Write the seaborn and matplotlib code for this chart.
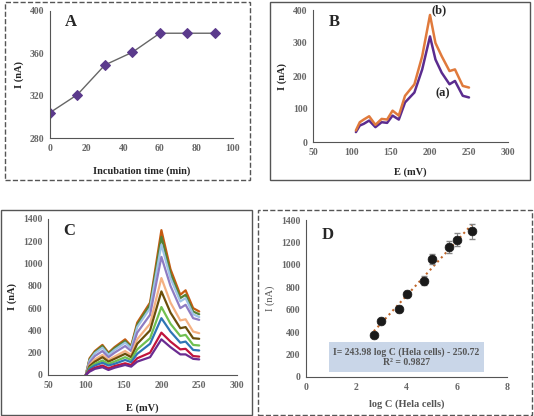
import matplotlib
matplotlib.use("Agg")
import matplotlib.pyplot as plt
import seaborn as sns
import numpy as np
import pandas as pd
from matplotlib.patches import Rectangle

sns.set_style("white")
plt.rcParams['font.family'] = ['Liberation Serif', 'DejaVu Serif']

# ---- data ----
time_min = [0, 15, 30, 45, 60, 75, 90]
current_A = [304, 321, 349, 361, 379, 379, 379]

E_B = [105, 110, 115, 122, 130, 138, 145, 152, 160, 168, 180, 190, 200, 207, 215, 225, 232, 242, 250]
I_Ba = [30, 50, 55, 65, 45, 60, 58, 80, 68, 120, 150, 220, 320, 250, 210, 175, 185, 140, 135]
I_Bb = [35, 60, 68, 78, 52, 70, 68, 95, 80, 140, 175, 260, 385, 300, 260, 215, 220, 170, 165]

E_C = [100, 105, 112, 122, 130, 138, 152, 160, 168, 185, 200, 212, 225, 232, 242, 250]
C_curves = [
    [0, 150, 215, 270, 200, 250, 320, 260, 470, 650, 1300, 950, 720, 760, 600, 570],
    [0, 140, 205, 260, 190, 240, 305, 250, 450, 630, 1240, 910, 690, 720, 570, 545],
    [0, 130, 195, 245, 180, 225, 290, 240, 430, 600, 1170, 870, 660, 690, 545, 520],
    [0, 110, 170, 215, 160, 200, 260, 215, 380, 540, 1060, 800, 600, 630, 510, 495],
    [0, 90, 140, 180, 135, 165, 215, 180, 320, 460, 870, 650, 490, 500, 390, 375],
    [0, 80, 120, 160, 120, 145, 190, 160, 280, 400, 750, 560, 420, 430, 330, 325],
    [0, 65, 100, 130, 100, 120, 160, 135, 230, 330, 610, 460, 350, 360, 270, 265],
    [0, 55, 85, 110, 85, 100, 135, 115, 190, 280, 510, 390, 290, 300, 225, 220],
    [0, 40, 65, 85, 60, 80, 105, 90, 150, 200, 380, 300, 230, 235, 170, 165],
    [0, 30, 55, 70, 45, 65, 90, 75, 120, 160, 320, 250, 185, 185, 145, 140],
]
C_colors = ['#C55A11', '#548235', '#9DC3E6', '#8E7CC3', '#F4B183',
            '#6B4E0A', '#70C050', '#2E75B6', '#C0143C', '#6A2C91']

logC = [2.7, 3.0, 3.7, 4.0, 4.7, 5.0, 5.7, 6.0, 6.6]
I_D = [375, 500, 605, 740, 860, 1050, 1160, 1225, 1300]
err_D = [20, 20, 25, 30, 40, 45, 55, 60, 65]
slope, intercept = 243.98, -250.72

W, H = 534, 416
fig = plt.figure(figsize=(W / 100, H / 100), dpi=100)

def ax_px(x0, y0, x1, y1):
    return fig.add_axes([x0 / W, 1 - y1 / H, (x1 - x0) / W, (y1 - y0) / H])

def box(x0, y0, x1, y1, ls):
    fig.patches.append(Rectangle((x0 / W, 1 - y1 / H), (x1 - x0) / W, (y1 - y0) / H,
                                 transform=fig.transFigure, fill=False, ec='#555555',
                                 lw=1, ls=ls))

def style(ax):
    sns.despine(ax=ax)
    for s in ['left', 'bottom']:
        ax.spines[s].set_color('#555555')
        ax.spines[s].set_linewidth(0.8)
    ax.tick_params(labelsize=7, colors='#666666', length=0, pad=4)
    for t in ax.get_xticklabels() + ax.get_yticklabels():
        t.set_fontweight('bold')

box(5, 2, 250, 180, '--')
box(270, 2, 530, 180, '-')
box(1, 210, 252, 415, '-')
box(258, 210, 532, 415, '--')

# A
axA = ax_px(50, 11, 233, 138)
sns.lineplot(x=time_min, y=current_A, ax=axA, color='#666666', lw=1, marker='D',
             markersize=5, markerfacecolor='#5B3A8C', markeredgecolor='#5B3A8C')
axA.set_xlim(0, 100); axA.set_ylim(280, 400)
axA.set_xticks(range(0, 101, 20)); axA.set_yticks(range(280, 401, 40))
axA.set_xlabel('Incubation time (min)', fontsize=7.5, fontweight='bold', labelpad=10)
axA.set_ylabel('I (nA)', fontsize=7.5, fontweight='bold')
axA.text(0.08, 0.88, 'A', transform=axA.transAxes, fontsize=12, fontweight='bold')
style(axA)

# B
axB = ax_px(313, 10, 508, 142)
sns.lineplot(x=E_B, y=I_Ba, ax=axB, color='#5B2C8F', lw=1.8)
sns.lineplot(x=E_B, y=I_Bb, ax=axB, color='#E07A3C', lw=1.8)
axB.set_xlim(50, 300); axB.set_ylim(0, 400)
axB.set_xticks(range(50, 301, 50)); axB.set_yticks(range(0, 401, 100))
axB.set_xlabel('E (mV)', fontsize=7.5, fontweight='bold', labelpad=8)
axB.set_ylabel('I (nA)', fontsize=7.5, fontweight='bold')
axB.text(0.08, 0.88, 'B', transform=axB.transAxes, fontsize=12, fontweight='bold')
axB.text(202, 390, '(b)', fontsize=9, fontweight='bold')
axB.text(207, 140, '(a)', fontsize=9, fontweight='bold')
style(axB)

# C
axC = ax_px(48, 219, 237, 375)
for vals, col in zip(C_curves, C_colors):
    sns.lineplot(x=E_C, y=vals, ax=axC, color=col, lw=1.6)
axC.set_xlim(50, 300); axC.set_ylim(0, 1400)
axC.set_xticks(range(50, 301, 50)); axC.set_yticks(range(0, 1401, 200))
axC.set_xlabel('E (mV)', fontsize=7.5, fontweight='bold', labelpad=10)
axC.set_ylabel('I (nA)', fontsize=7.5, fontweight='bold')
axC.text(0.08, 0.9, 'C', transform=axC.transAxes, fontsize=12, fontweight='bold')
style(axC)

# D
axD = ax_px(306, 220, 507, 377)
xl = np.array([logC[0], logC[-1]])
axD.plot(xl, slope * xl + intercept, ls=':', color='#C0662A', lw=1.5)
axD.errorbar(logC, I_D, yerr=err_D, fmt='none', ecolor='#888888', capsize=2, lw=0.8)
sns.scatterplot(x=logC, y=I_D, ax=axD, color='#1a1a1a', s=40, edgecolor='#1a1a1a', zorder=3)
axD.set_xlim(0, 8); axD.set_ylim(0, 1400)
axD.set_xticks(range(0, 9, 2)); axD.set_yticks(range(0, 1401, 200))
axD.set_xlabel('log C (Hela cells)', fontsize=7.5, color='#555555', fontweight='bold', labelpad=6)
axD.set_ylabel('I (nA)', fontsize=7.5, color='#555555')
axD.text(0.08, 0.88, 'D', transform=axD.transAxes, fontsize=12, fontweight='bold')
axD.text(4.0, 175, 'I= 243.98 log C (Hela cells) - 250.72\nR² = 0.9827', ha='center',
         va='center', fontsize=7, color='#555555', fontweight='bold',
         bbox=dict(boxstyle='square,pad=0.5', fc='#C9D6E8', ec='none'))
style(axD)

fig.savefig('out.png', dpi=100)
